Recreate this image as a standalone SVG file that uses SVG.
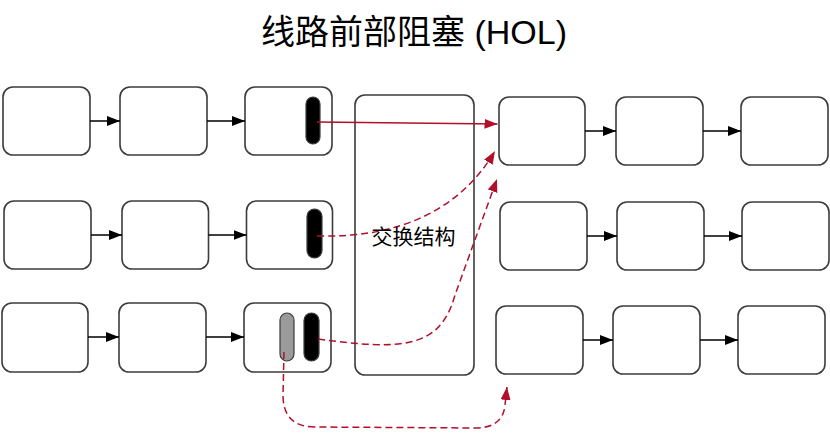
<svg xmlns="http://www.w3.org/2000/svg" width="830" height="434" viewBox="0 0 830 434">
<style>
.box{fill:#fff;stroke:#3c3c3c;stroke-width:1.6}
.pill{fill:#000;stroke:#3c3c3c;stroke-width:1.2}
.pillg{fill:#9a9a9a;stroke:#3c3c3c;stroke-width:1.2}
.arr{fill:none;stroke:#000;stroke-width:1.5;marker-end:url(#ab)}
.red{fill:none;stroke:#b0102a;stroke-width:1.5;marker-end:url(#ar)}
.dash{stroke-dasharray:7 4}
.title{font-family:"Liberation Sans","Noto Sans CJK SC",sans-serif;font-size:34px;fill:#000}
.lbl{font-family:"Liberation Sans","Noto Sans CJK SC",sans-serif;font-size:21px;fill:#000}
</style>
<defs>
<marker id="ab" markerUnits="userSpaceOnUse" markerWidth="14" markerHeight="12" refX="13" refY="5" orient="auto"><path d="M0,0 L13,5 L0,10 z" fill="#000"/></marker>
<marker id="ar" markerUnits="userSpaceOnUse" markerWidth="14" markerHeight="12" refX="13" refY="5" orient="auto"><path d="M0,0 L13,5 L0,10 z" fill="#b0102a"/></marker>
</defs>
<rect width="830" height="434" fill="#fff"/>
<text class="title" x="414" y="44" text-anchor="middle">线路前部阻塞 (HOL)</text>

<g id="in1a"><rect class="box" x="3" y="87" width="87" height="68" rx="10"/></g>
<g id="in1b"><rect class="box" x="120" y="87" width="87" height="68" rx="10"/></g>
<g id="in1c"><rect class="box" x="245" y="87" width="87" height="68" rx="10"/><rect class="pill" x="306" y="97" width="14" height="47" rx="7"/></g>
<g id="in2a"><rect class="box" x="4" y="201" width="87" height="68" rx="10"/></g>
<g id="in2b"><rect class="box" x="122" y="201" width="86.5" height="68" rx="10"/></g>
<g id="in2c"><rect class="box" x="246.5" y="201" width="86" height="68" rx="10"/><rect class="pill" x="307" y="209" width="15" height="49" rx="7.5"/></g>
<g id="in3a"><rect class="box" x="2" y="303" width="86" height="69" rx="10"/></g>
<g id="in3b"><rect class="box" x="119" y="303" width="87" height="69" rx="10"/></g>
<g id="in3c"><rect class="box" x="244" y="303" width="87" height="69" rx="10"/><rect class="pillg" x="280" y="313" width="14" height="48" rx="7"/><rect class="pill" x="304" y="313" width="15" height="48" rx="7.5"/></g>

<g id="switch"><rect class="box" x="355" y="95" width="119" height="280" rx="10"/></g>

<g id="out1a"><rect class="box" x="499" y="97" width="86" height="68" rx="10"/></g>
<g id="out1b"><rect class="box" x="616" y="97" width="87" height="68" rx="10"/></g>
<g id="out1c"><rect class="box" x="741" y="97" width="87" height="68" rx="10"/></g>
<g id="out2a"><rect class="box" x="500" y="202" width="87" height="68" rx="10"/></g>
<g id="out2b"><rect class="box" x="617" y="202" width="87" height="68" rx="10"/></g>
<g id="out2c"><rect class="box" x="742" y="202" width="87" height="68" rx="10"/></g>
<g id="out3a"><rect class="box" x="496" y="306" width="87" height="68" rx="10"/></g>
<g id="out3b"><rect class="box" x="613" y="306" width="87" height="68" rx="10"/></g>
<g id="out3c"><rect class="box" x="738" y="306" width="87" height="68" rx="10"/></g>

<g id="connectors">
<line class="arr" x1="90" y1="121" x2="120" y2="121"/>
<line class="arr" x1="207" y1="121" x2="245" y2="121"/>
<line class="arr" x1="91" y1="235" x2="122" y2="235"/>
<line class="arr" x1="208.5" y1="235" x2="246.5" y2="235"/>
<line class="arr" x1="88" y1="337" x2="119" y2="337"/>
<line class="arr" x1="206" y1="337" x2="244" y2="337"/>
<line class="arr" x1="585" y1="131" x2="616" y2="131"/>
<line class="arr" x1="703" y1="131" x2="741" y2="131"/>
<line class="arr" x1="587" y1="236" x2="617" y2="236"/>
<line class="arr" x1="704" y1="236" x2="742" y2="236"/>
<line class="arr" x1="583" y1="340" x2="613" y2="340"/>
<line class="arr" x1="700" y1="340" x2="738" y2="340"/>
<path class="red" d="M317,122 L497.5,124"/>
<path class="red dash" d="M317,236 C400,238 460,210 495,151"/>
<path class="red dash" d="M318,339 C400,350 440,350 455,295 L497,179"/>
<path class="red dash" d="M284,352 L283,395 Q283,427 315,427 L475,428 Q503,428 505,405 L507,387"/>
</g>
<text class="lbl" x="413.5" y="244" text-anchor="middle">交换结构</text>
</svg>
